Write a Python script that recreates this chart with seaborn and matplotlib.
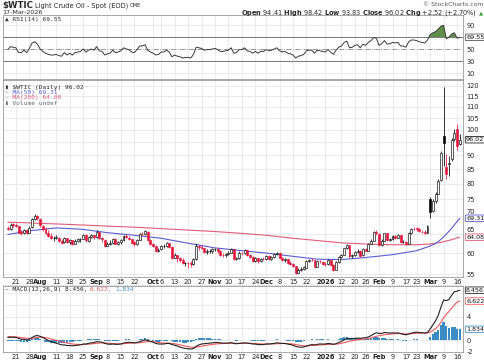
import matplotlib
matplotlib.use("Agg")
import matplotlib.pyplot as plt
import numpy as np
import pandas as pd
import seaborn as sns

# trading calendar (NYMEX holidays removed)
holidays = ["2025-09-01", "2025-11-27", "2025-12-25", "2026-01-01", "2026-01-19", "2026-02-16"]
days = pd.bdate_range("2025-07-16", "2026-03-17", freq="C", holidays=holidays)

# daily candles (one row per week)
opens = [
    66.6, 66.3, 67.6,
    67.4, 67.1, 65.4, 65.3, 66.1,
    65.2, 66.8, 69.2, 70.0, 69.2,
    67.0, 66.3, 65.3, 64.4, 63.9,
    63.9, 64.0, 63.1, 62.7, 63.9,
    62.8, 63.3, 62.4, 63.2, 63.5,
    63.7, 64.8, 63.2, 64.1, 64.6,
    64.2, 65.5, 63.9, 63.4,
    61.9, 62.3, 62.6, 63.7, 62.4,
    62.7, 63.3, 64.5, 64.0, 63.5,
    62.7, 62.3, 63.4, 65.0, 65.0,
    65.6, 63.4, 62.4, 61.8, 60.5,
    60.9, 61.7, 61.7, 62.5, 61.5,
    58.9, 59.5, 58.7, 58.3, 57.5,
    57.5, 57.5, 57.3, 58.5, 61.8,
    61.5, 61.3, 60.2, 60.5, 60.6,
    61.0, 61.0, 60.6, 59.6, 59.4,
    59.8, 60.1, 61.0, 58.5, 58.7,
    60.1, 59.9, 60.7, 59.4, 59.1,
    58.1, 58.8, 58.0, 58.6,
    58.6, 59.3, 58.6, 59.0, 59.7,
    60.1, 58.9, 58.2, 58.5, 57.6,
    57.4, 56.8, 55.3, 55.9, 56.2,
    56.5, 58.0, 58.4, 58.3,
    56.7, 58.1, 57.9, 57.4,
    57.3, 58.3, 57.1, 56.0, 57.8,
    59.1, 59.5, 61.2, 62.0, 59.2,
    59.4, 60.3, 60.6, 59.4,
    61.1, 60.6, 62.4, 63.2, 65.4,
    65.0, 62.1, 63.2, 65.1, 63.3,
    63.6, 64.4, 64.0, 64.6, 62.8,
    62.9, 62.3, 65.2, 66.4,
    66.5, 66.3, 65.6, 65.4, 65.2,
    75.0, 71.4, 74.6, 76.8, 81.2,
    97.6, 85.6, 86.8, 88.5, 96.3,
    100.5, 94.41,
]
highs = [
    67.0, 67.9, 68.0,
    67.9, 67.2, 65.9, 66.4, 66.4,
    67.0, 69.5, 70.5, 70.3, 69.4,
    67.4, 66.8, 66.0, 65.1, 64.4,
    64.6, 64.2, 63.5, 64.2, 64.0,
    63.7, 63.4, 63.5, 63.8, 64.0,
    65.0, 64.9, 64.4, 65.0, 64.8,
    66.0, 65.6, 64.1, 63.6,
    62.9, 63.4, 64.0, 63.8, 63.0,
    63.6, 64.8, 64.9, 64.3, 63.7,
    63.0, 63.6, 65.2, 65.6, 66.0,
    65.8, 63.6, 62.6, 62.0, 61.2,
    62.0, 62.3, 62.8, 62.6, 61.7,
    60.0, 59.6, 59.0, 58.9, 57.9,
    57.7, 58.0, 58.7, 62.6, 62.0,
    62.0, 61.4, 60.9, 61.0, 61.3,
    61.4, 61.2, 60.8, 60.0, 60.0,
    60.5, 61.2, 61.1, 59.1, 60.4,
    60.3, 60.9, 60.8, 59.8, 59.2,
    59.0, 58.9, 58.9, 59.1,
    59.6, 59.4, 59.2, 59.9, 60.3,
    60.2, 59.0, 58.8, 58.6, 58.0,
    57.6, 56.9, 56.3, 56.6, 56.9,
    58.2, 58.6, 58.7, 58.4,
    58.3, 58.4, 58.1, 57.9,
    58.6, 58.4, 57.3, 58.0, 59.3,
    59.8, 61.4, 62.4, 62.1, 59.8,
    60.6, 60.9, 60.8, 61.3,
    61.2, 62.6, 63.5, 65.8, 65.9,
    65.1, 63.5, 65.3, 65.2, 64.0,
    64.6, 64.6, 64.9, 64.7, 63.3,
    63.2, 65.4, 66.7, 66.9,
    66.8, 66.5, 66.1, 65.9, 67.3,
    75.6, 75.0, 77.2, 81.6, 91.5,
    119.5, 90.6, 89.6, 96.5, 100.3,
    102.4, 98.42,
]
lows = [
    65.9, 66.0, 66.9,
    66.8, 65.1, 64.8, 65.0, 64.9,
    65.1, 66.6, 68.9, 68.7, 66.9,
    65.8, 64.9, 64.1, 63.6, 63.2,
    63.5, 62.9, 62.4, 62.5, 62.6,
    62.3, 62.1, 62.2, 62.8, 62.9,
    63.5, 62.9, 62.9, 63.8, 63.7,
    63.9, 63.6, 62.9, 61.5,
    61.7, 62.1, 62.4, 62.2, 62.1,
    62.4, 63.2, 63.8, 63.3, 62.5,
    61.9, 62.1, 63.3, 64.6, 64.7,
    63.2, 62.1, 61.5, 60.3, 60.2,
    60.8, 61.2, 61.6, 61.3, 58.5,
    58.8, 57.9, 57.9, 57.3, 56.9,
    56.4, 56.7, 57.1, 58.4, 60.8,
    60.9, 59.9, 59.8, 60.0, 60.1,
    60.5, 60.1, 59.3, 59.1, 59.0,
    59.6, 59.9, 58.3, 58.2, 58.6,
    59.6, 59.7, 59.2, 58.9, 57.8,
    57.9, 57.6, 57.8, 58.2,
    58.4, 58.4, 58.4, 58.8, 59.4,
    58.7, 58.0, 57.9, 57.3, 57.1,
    56.6, 55.0, 55.2, 55.7, 55.9,
    56.4, 57.7, 58.0, 56.5,
    56.6, 57.6, 57.2, 56.9,
    57.0, 56.9, 55.8, 55.9, 57.6,
    58.8, 59.4, 61.0, 58.9, 58.9,
    59.3, 59.9, 59.1, 59.2,
    60.4, 60.5, 62.2, 63.0, 64.6,
    61.8, 61.9, 63.1, 63.0, 63.0,
    63.4, 63.6, 63.8, 62.6, 62.5,
    62.0, 62.2, 65.0, 65.9,
    65.8, 65.4, 65.1, 64.9, 65.1,
    69.4, 71.0, 74.0, 76.5, 80.8,
    86.0, 81.5, 82.5, 88.0, 95.5,
    92.0, 93.83,
]
closes = [
    66.38, 67.54, 67.34,
    67.20, 65.31, 65.25, 66.03, 65.16,
    66.71, 69.21, 70.00, 69.26, 67.33,
    66.29, 65.16, 64.35, 63.88, 63.88,
    64.10, 63.17, 62.65, 63.96, 62.80,
    63.42, 62.35, 63.21, 63.52, 63.66,
    64.80, 63.25, 64.15, 64.60, 64.01,
    65.59, 63.97, 63.48, 61.87,
    62.26, 62.63, 63.67, 62.37, 62.69,
    63.30, 64.52, 64.05, 63.57, 62.68,
    62.28, 63.41, 64.99, 64.98, 65.72,
    63.45, 62.37, 61.78, 60.48, 60.88,
    61.69, 61.73, 62.55, 61.51, 58.90,
    59.49, 58.70, 58.27, 57.46, 57.54,
    57.52, 57.24, 58.50, 61.79, 61.50,
    61.31, 60.15, 60.48, 60.57, 60.98,
    61.05, 60.56, 59.60, 59.43, 59.75,
    60.13, 61.04, 58.49, 58.69, 60.09,
    59.91, 60.74, 59.44, 59.14, 58.06,
    58.84, 57.95, 58.65, 58.55,
    59.32, 58.64, 58.95, 59.67, 60.08,
    58.88, 58.25, 58.46, 57.60, 57.44,
    56.82, 55.27, 55.94, 56.15, 56.52,
    58.01, 58.38, 58.35, 56.74,
    58.08, 57.95, 57.42, 57.32,
    58.32, 57.13, 55.99, 57.76, 59.12,
    59.50, 61.15, 62.02, 59.19, 59.44,
    60.34, 60.62, 59.36, 61.07,
    60.63, 62.39, 63.21, 65.42, 65.21,
    62.14, 63.21, 65.14, 63.29, 63.55,
    64.36, 63.96, 64.63, 62.84, 62.89,
    62.33, 65.19, 66.43, 66.39,
    66.31, 65.63, 65.42, 65.21, 67.02,
    71.23, 74.56, 76.60, 81.01, 90.90,
    94.77, 83.45, 87.25, 95.73, 98.71,
    93.50, 96.02,
]

# moving averages, sampled from the chart
ma_dates = ["2025-07-16", "2025-07-28", "2025-08-11", "2025-08-25", "2025-09-08", "2025-09-22",
            "2025-10-06", "2025-10-20", "2025-11-03", "2025-11-17", "2025-12-01", "2025-12-15",
            "2025-12-29", "2026-01-12", "2026-01-26", "2026-02-09", "2026-02-23", "2026-03-02",
            "2026-03-04", "2026-03-06", "2026-03-10", "2026-03-12", "2026-03-16", "2026-03-17"]
ma50 = [64.8, 65.8, 66.6, 66.2, 65.3, 64.6, 63.8, 62.5, 61.3, 60.6, 60.0, 59.2,
        58.5, 58.4, 58.9, 59.6, 60.6, 61.8, 62.4, 63.5, 64.9, 66.5, 68.4, 69.31]
ma200 = [68.2, 68.0, 67.7, 67.4, 67.1, 66.8, 66.4, 66.0, 65.6, 65.1, 64.6, 63.8,
         63.2, 62.6, 62.3, 62.1, 62.1, 62.3, 62.5, 62.7, 63.1, 63.4, 63.9, 64.08]

rsi = [
    49, 54, 53,
    52, 44, 44, 48, 44,
    51, 60, 62, 58, 50,
    46, 43, 41, 40, 40,
    41, 39, 38, 44, 40,
    43, 40, 44, 45, 46,
    50, 45, 48, 50, 48,
    54, 47, 46, 40,
    42, 43, 48, 44, 45,
    47, 52, 50, 49, 45,
    44, 49, 55, 55, 57,
    48, 45, 43, 40, 41,
    45, 45, 48, 45, 37,
    40, 38, 37, 35, 36,
    36, 35, 41, 53, 52,
    51, 48, 49, 49, 50,
    51, 49, 46, 46, 47,
    48, 52, 43, 44, 49,
    49, 52, 47, 46, 43,
    46, 43, 46, 46,
    49, 47, 48, 50, 52,
    47, 45, 46, 43, 42,
    40, 35, 38, 39, 41,
    47, 48, 48, 43,
    48, 47, 46, 45,
    49, 45, 41, 48, 53,
    55, 61, 63, 52, 53,
    56, 57, 52, 58,
    56, 61, 64, 69, 68,
    56, 59, 64, 58, 59,
    61, 60, 61, 55, 55,
    53, 62, 65, 65,
    64, 62, 61, 60, 65,
    74, 77, 79, 83, 88,
    89.5, 67, 70, 75, 77,
    68, 69.55,
]
macd = [
    0.45, 0.50, 0.50,
    0.48, 0.30, 0.15, 0.15, 0.05,
    0.15, 0.45, 0.70, 0.80, 0.65,
    0.45, 0.20, -0.05, -0.25, -0.40,
    -0.50, -0.65, -0.80, -0.80, -0.90,
    -0.90, -0.95, -0.90, -0.85, -0.80,
    -0.65, -0.65, -0.55, -0.45, -0.40,
    -0.25, -0.30, -0.35, -0.55,
    -0.65, -0.70, -0.65, -0.70, -0.70,
    -0.65, -0.50, -0.40, -0.35, -0.40,
    -0.45, -0.40, -0.25, -0.10, 0.05,
    -0.05, -0.20, -0.35, -0.55, -0.65,
    -0.65, -0.65, -0.55, -0.55, -0.75,
    -0.85, -1.00, -1.15, -1.30, -1.40,
    -1.45, -1.50, -1.40, -1.05, -0.80,
    -0.65, -0.60, -0.55, -0.50, -0.45,
    -0.40, -0.40, -0.45, -0.50, -0.50,
    -0.50, -0.40, -0.55, -0.60, -0.55,
    -0.50, -0.45, -0.50, -0.55, -0.65,
    -0.65, -0.75, -0.75, -0.75,
    -0.65, -0.65, -0.60, -0.55, -0.45,
    -0.50, -0.55, -0.55, -0.65, -0.75,
    -0.85, -1.05, -1.15, -1.20, -1.15,
    -1.00, -0.85, -0.75, -0.80,
    -0.70, -0.65, -0.65, -0.65,
    -0.55, -0.60, -0.70, -0.60, -0.40,
    -0.20, 0.05, 0.30, 0.25, 0.25,
    0.30, 0.35, 0.30, 0.40,
    0.40, 0.55, 0.75, 1.05, 1.25,
    1.15, 1.15, 1.30, 1.25, 1.20,
    1.25, 1.20, 1.25, 1.10, 1.00,
    0.90, 1.05, 1.20, 1.30,
    1.35, 1.30, 1.25, 1.20, 1.30,
    1.90, 2.60, 3.30, 4.20, 5.60,
    6.80, 6.70, 6.90, 7.60, 8.20,
    8.30, 8.456,
]
signal = [
    0.60, 0.58, 0.57,
    0.55, 0.50, 0.43, 0.38, 0.32,
    0.29, 0.32, 0.40, 0.48, 0.51,
    0.50, 0.44, 0.34, 0.22, 0.10,
    -0.02, -0.15, -0.28, -0.38, -0.48,
    -0.56, -0.64, -0.69, -0.72, -0.74,
    -0.72, -0.71, -0.68, -0.63, -0.59,
    -0.52, -0.48, -0.45, -0.47,
    -0.51, -0.55, -0.57, -0.60, -0.62,
    -0.62, -0.60, -0.56, -0.52, -0.50,
    -0.49, -0.47, -0.43, -0.36, -0.28,
    -0.23, -0.23, -0.26, -0.32, -0.38,
    -0.44, -0.48, -0.49, -0.50, -0.55,
    -0.61, -0.69, -0.78, -0.89, -0.99,
    -1.08, -1.17, -1.21, -1.18, -1.10,
    -1.01, -0.93, -0.86, -0.79, -0.72,
    -0.66, -0.61, -0.58, -0.56, -0.55,
    -0.54, -0.51, -0.52, -0.53, -0.54,
    -0.53, -0.51, -0.51, -0.52, -0.54,
    -0.57, -0.60, -0.63, -0.65,
    -0.65, -0.65, -0.64, -0.62, -0.59,
    -0.57, -0.57, -0.56, -0.58, -0.61,
    -0.66, -0.74, -0.82, -0.90, -0.95,
    -0.96, -0.94, -0.90, -0.88,
    -0.85, -0.81, -0.78, -0.75,
    -0.71, -0.69, -0.69, -0.67, -0.62,
    -0.54, -0.42, -0.28, -0.17, -0.09,
    -0.01, 0.06, 0.11, 0.17,
    0.21, 0.28, 0.37, 0.51, 0.66,
    0.76, 0.84, 0.93, 0.99, 1.03,
    1.07, 1.10, 1.13, 1.12, 1.10,
    1.06, 1.06, 1.09, 1.13,
    1.17, 1.20, 1.21, 1.21, 1.23,
    1.37, 1.61, 1.95, 2.40, 3.04,
    3.79, 4.37, 4.88, 5.42, 5.98,
    6.44, 6.622,
]

tick_dates = ["2025-07-21", "2025-07-28", "2025-08-01", "2025-08-11", "2025-08-18", "2025-08-25",
              "2025-09-02", "2025-09-08", "2025-09-15", "2025-09-22", "2025-10-01", "2025-10-06",
              "2025-10-13", "2025-10-20", "2025-10-27", "2025-11-03", "2025-11-10", "2025-11-17",
              "2025-11-24", "2025-12-01", "2025-12-08", "2025-12-15", "2025-12-22", "2026-01-02",
              "2026-01-12", "2026-01-20", "2026-01-26", "2026-02-02", "2026-02-09", "2026-02-17",
              "2026-02-23", "2026-03-02", "2026-03-09", "2026-03-16"]
tick_labels = ["21", "28", "Aug", "11", "18", "25", "Sep", "8", "15", "22", "Oct", "6", "13", "20",
               "27", "Nov", "10", "17", "24", "Dec", "8", "15", "22", "2026", "12", "20", "26",
               "Feb", "9", "17", "23", "Mar", "9", "16"]

# grid levels; labels hidden where the value boxes sit on top of them
price_grid = [55, 60, 65, 70, 75, 80, 85, 90, 95, 100, 105, 110, 115, 120]
price_ticks = [55, 60, 75, 80, 85, 90, 100, 105, 110, 115, 120]
price_raised = [65, 70]          # labels sitting just above the MA boxes
rsi_ticks = [10, 30, 50, 90]
macd_grid = [-2, 0, 2, 4, 6, 8]
macd_ticks = [-2, 0, 4]

RED = "#e2163c"
BLUE_MA = "#5a5ad2"
RED_MA = "#e05a78"
MACD_RED = "#f0585a"
HIST = "#3b8cc4"
GRID = "#e6e6e6"
FRAME = "#9a9a9a"

sns.set_style("white")
plt.rcParams["font.family"] = ["DejaVu Sans"]
plt.rcParams["mathtext.fontset"] = "dejavusans"

df = pd.DataFrame({"pos": np.arange(len(days)), "open": opens, "high": highs,
                   "low": lows, "close": closes, "rsi": rsi, "macd": macd, "signal": signal})
df["hist"] = df["macd"] - df["signal"]
ma = pd.DataFrame({"pos": days.get_indexer(pd.to_datetime(ma_dates)), "ma50": ma50, "ma200": ma200})
tick_pos = days.get_indexer(pd.to_datetime(tick_dates))

fig = plt.figure(figsize=(4.85, 3.6), dpi=100)
L, W = 3 / 485, 460 / 485
ax_r = fig.add_axes([L, 1 - 79 / 360, W, 64 / 360])
ax_p = fig.add_axes([L, 1 - 277 / 360, W, 197 / 360])
ax_m = fig.add_axes([L, 1 - 352 / 360, W, 66 / 360])
xlim = (-1.8, 169.2)
renderer = fig.canvas.get_renderer()


def frame(ax, yt, show_dates):
    ax.set_xlim(*xlim)
    ax.set_xticks(tick_pos)
    ax.set_xticklabels(tick_labels if show_dates else [])
    for t in ax.get_xticklabels():
        if not t.get_text().isdigit() or t.get_text() == "2026":
            t.set_fontweight("bold")
    ax.set_yticks(yt)
    ax.set_yticklabels([str(v) for v in yt])
    ax.yaxis.tick_right()
    ax.tick_params(axis="both", length=0, labelsize=4.8, colors="#222", pad=1.5)
    ax.tick_params(axis="y", pad=2.5)
    for x in tick_pos:
        ax.axvline(x, color=GRID, lw=0.6, zorder=0)
    for s in ax.spines.values():
        s.set_color(FRAME)
        s.set_linewidth(0.6)
    ax.set_xlabel("")
    ax.set_ylabel("")


def box(ax, y, text, edge):
    ax.annotate(text, xy=(1, y), xycoords=("axes fraction", "data"), xytext=(2.2, 0),
                textcoords="offset points", ha="left", va="center", fontsize=4.6, color="#111",
                annotation_clip=False, zorder=10,
                bbox=dict(boxstyle="round,pad=0.12", fc="white", ec=edge, lw=0.6))


def chain(x_px, y_px, pieces, gap=2.0):
    # place text pieces left to right, each after the previous one
    x = x_px
    for s, kw in pieces:
        t = fig.text(x / 485, 1 - y_px / 360, s, va="center", **kw)
        x = t.get_window_extent(renderer=renderer).x1 + gap
    return x


# ---- RSI panel ----
ax_r.set_ylim(0, 106.7)
for v in [10, 90]:
    ax_r.axhline(v, color=GRID, lw=0.6, zorder=0)
ax_r.axhline(70, color="#777", lw=0.7, zorder=1)
ax_r.axhline(30, color="#777", lw=0.7, zorder=1)
ax_r.axhline(50, color="#888", lw=0.6, ls="-.", zorder=1)
r = df["rsi"].to_numpy()
ax_r.fill_between(df["pos"], r, 70, where=r >= 70, interpolate=True, color="#5f8f48", lw=0, zorder=2)
ax_r.fill_between(df["pos"], r, 30, where=r <= 30, interpolate=True, color=RED, lw=0, zorder=2)
sns.lineplot(data=df, x="pos", y="rsi", ax=ax_r, color="#3a3a3a", lw=0.7, zorder=3)
frame(ax_r, rsi_ticks, False)
box(ax_r, 69.55, "69.55", "#555")
ax_r.text(0.004, 0.93, "▲ RSI(14) 69.55", transform=ax_r.transAxes, fontsize=4.5,
          family="DejaVu Sans Mono", color="#333", va="center")

# ---- price panel ----
ax_p.set_yscale("log")
ax_p.minorticks_off()
for v in price_grid:
    ax_p.axhline(v, color=GRID, lw=0.6, zorder=0)
sns.lineplot(data=ma, x="pos", y="ma200", ax=ax_p, color=RED_MA, lw=0.8, zorder=2)
sns.lineplot(data=ma, x="pos", y="ma50", ax=ax_p, color=BLUE_MA, lw=0.8, zorder=2)

up = df["close"] >= df["close"].shift(1).fillna(df["open"])
col = np.where(up, "black", RED)
hollow = (df["close"] > df["open"]).to_numpy()
ax_p.vlines(df["pos"], df["low"], df["high"], colors=col, lw=0.55, zorder=3)
body_lo = np.minimum(df["open"], df["close"])
body_h = np.maximum(np.abs(df["close"] - df["open"]), 0.04)
ax_p.bar(df["pos"], body_h, bottom=body_lo, width=0.72,
         color=np.where(hollow, "white", col), edgecolor=col, lw=0.45, zorder=4)
frame(ax_p, price_ticks, True)
ax_p.set_ylim(54.33, 123.0)
for v in price_raised:
    ax_p.annotate(str(v), xy=(1, v), xycoords=("axes fraction", "data"), xytext=(2.5, 2.8),
                  textcoords="offset points", ha="left", va="center", fontsize=4.8,
                  color="#222", annotation_clip=False, zorder=11)
box(ax_p, 96.02, "96.02", "#222")
box(ax_p, 69.31, "69.31", BLUE_MA)
box(ax_p, 64.08, "64.08", RED_MA)

leg = [("▮ $WTIC (Daily) 96.02", "#222"), ("— MA(50) 69.31", BLUE_MA),
       ("— MA(200) 64.08", RED_MA), ("▮ Volume undef", "#666")]
for i, (t, c) in enumerate(leg):
    ax_p.text(0.004, 0.963 - i * 0.027, t, transform=ax_p.transAxes, fontsize=4.4,
              family="DejaVu Sans Mono", color=c, va="center")

# ---- MACD panel ----
ax_m.set_ylim(-1.83, 9.17)
for v in macd_grid:
    ax_m.axhline(v, color=GRID, lw=0.6, zorder=0)
ax_m.bar(df["pos"], df["hist"], width=0.85, color=HIST, lw=0, zorder=2)
sns.lineplot(data=df, x="pos", y="signal", ax=ax_m, color=MACD_RED, lw=0.8, zorder=3)
sns.lineplot(data=df, x="pos", y="macd", ax=ax_m, color="#222", lw=0.8, zorder=4)
frame(ax_m, macd_ticks, True)
box(ax_m, 8.456, "8.456", "#222")
box(ax_m, 6.622, "6.622", MACD_RED)
box(ax_m, 1.834, "1.834", HIST)
mono = dict(fontsize=4.4, family="DejaVu Sans Mono")
chain(5, 289.5, [("— MACD(12,26,9) 8.456,", dict(color="#222", **mono)),
                 ("6.622,", dict(color=MACD_RED, **mono)),
                 ("1.834", dict(color=HIST, **mono))], gap=2.5)

# dotted divider under the date row
fig.add_artist(plt.Line2D([L, L + W], [1 - 284.5 / 360] * 2, color="#aaa", lw=0.6, ls=":"))

# ---- header ----
chain(2, 5.5, [("$WTIC", dict(fontsize=6.2, fontweight="bold")),
               ("Light Crude Oil - Spot (EOD)", dict(fontsize=4.8)),
               ("CME", dict(fontsize=3.8))], gap=2.0)
fig.text(2 / 485, 1 - 12.5 / 360, "17-Mar-2026", fontsize=4.6, va="center")
fig.text(483 / 485, 1 - 4.5 / 360, "© StockCharts.com", fontsize=4.4, color="#555",
         ha="right", va="center")
tri = fig.text(483 / 485, 1 - 12.5 / 360, "▲", fontsize=3.8, color="#2e9a2e",
               ha="right", va="center")
tri_x0 = tri.get_window_extent(renderer=renderer).x0
fig.text((tri_x0 - 2) / 485, 1 - 12.5 / 360,
         r"$\mathbf{Open}$ 94.41 $\mathbf{High}$ 98.42 $\mathbf{Low}$ 93.83 "
         r"$\mathbf{Close}$ 96.02 $\mathbf{Chg}$ +2.52 (+2.70%)", fontsize=4.8,
         ha="right", va="center")

fig.savefig("out.png", dpi=100)
